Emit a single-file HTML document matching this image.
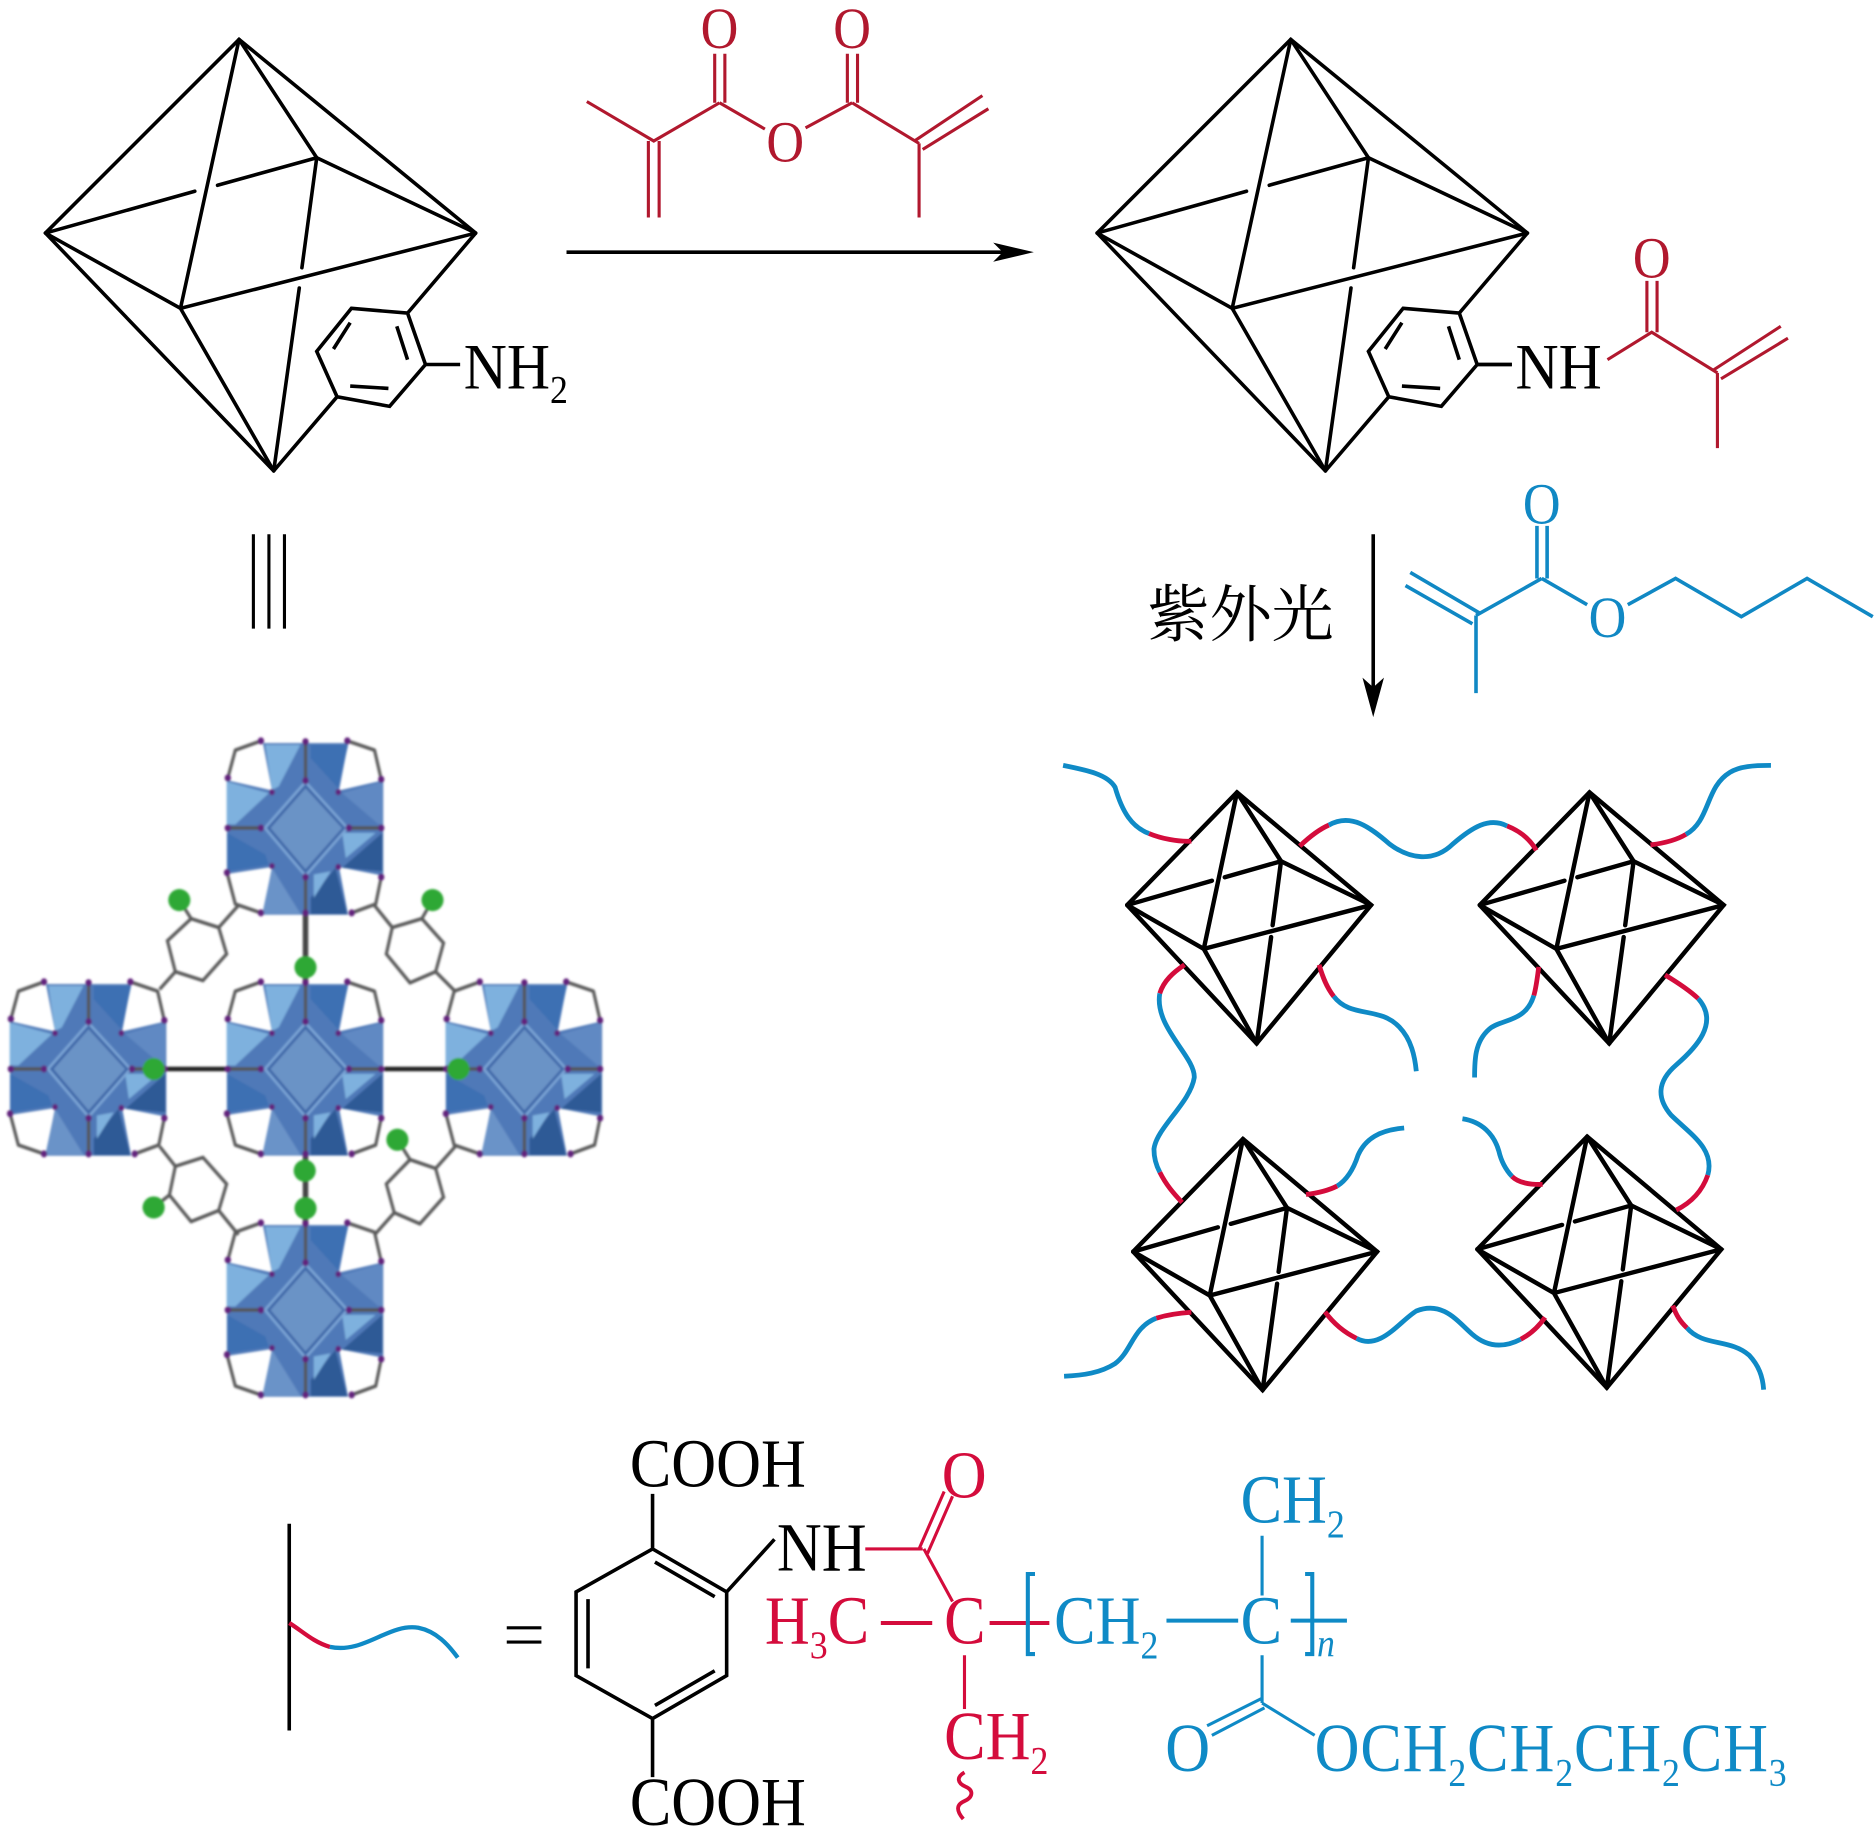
<!DOCTYPE html>
<html lang="zh">
<head>
<meta charset="utf-8">
<title>Diagram</title>
<style>
html,body{margin:0;padding:0;background:#fff}
svg{display:block}
text{font-family:"Liberation Serif","Noto Serif CJK SC",serif}
.ns *{vector-effect:non-scaling-stroke}
</style>
</head>
<body>
<svg xmlns="http://www.w3.org/2000/svg" width="1874" height="1846" viewBox="0 0 1568 1544.6">
<defs>
<filter id="bl" x="-5%" y="-5%" width="110%" height="110%"><feGaussianBlur stdDeviation="2.4"/></filter>
<g id="octaCore" fill="none" stroke="#000" stroke-linecap="round" stroke-linejoin="miter">
  <path d="M38,195L200,33L398,195M38,195L229,394"/>
  <path d="M200,33L151,258L229,394M38,195L151,258L398,195M200,33L265,132L398,195"/>
  <path d="M38,195L163,160M182,155L265,132"/>
  <path d="M265,132L252.6,224M250.4,241L229,394"/>
</g>
<g id="octaBig">
  <use href="#octaCore" stroke-width="3"/>
  <g fill="none" stroke="#000" stroke-width="3" stroke-linejoin="miter">
    <path d="M398,195L341,262M229,394L282,332"/>
    <path d="M294,258L341,262L356,305L326,340L282,332L265,294Z"/>
    <path d="M293,270L279,292M332,273L341,301M293,323L325,325"/>
    <path d="M356,305L385,305"/>
  </g>
</g>
<g id="octaSmall" class="ns">
  <g fill="none" stroke="#000" stroke-width="4.4" stroke-linecap="round">
    <path vector-effect="non-scaling-stroke" d="M38,195L200,33L398,195L229,394L38,195"/>
    <path vector-effect="non-scaling-stroke" d="M200,33L151,258L229,394M38,195L151,258L398,195M200,33L265,132L398,195"/>
    <path vector-effect="non-scaling-stroke" d="M38,195L163,160M182,155L265,132"/>
    <path vector-effect="non-scaling-stroke" d="M265,132L252.6,224M250.4,241L229,394"/>
  </g>
</g>
<g id="cell">
  <polygon points="-108,-192 108,-192 85,-85 197,-108 197,108 85,88 108,196 -108,196 -85,88 -199,104 -199,-108 -85,-85" fill="#5079b8"/>
  <polygon points="-102,-188 -13,-188 -68,-94 -85,-86" fill="#7eb1de"/>
  <polygon points="13,-188 108,-188 83,-90 13,-158" fill="#3d70b3"/>
  <polygon points="-200,-105 -93,-79 -178,-8 -200,-8" fill="#7eb1de"/>
  <polygon points="195,-105 93,-79 186,-8 195,-8" fill="#6089c3"/>
  <polygon points="-199,11 -102,60 -93,83 -199,98" fill="#3d70b3"/>
  <polygon points="195,11 93,90 195,98" fill="#2f5a96"/>
  <polygon points="-110,195 -12,195 -85,90" fill="#6a93c8"/>
  <polygon points="13,195 106,195 76,90 13,158" fill="#2f5a96"/>
  <polygon points="93,11 178,11 102,68" fill="#7eb1de"/>
  <polygon points="21,105 64,98 21,158" fill="#7eb1de"/>
  <polygon points="0,-104 106,0 0,108 -103,0" fill="none" stroke="#7ba5d6" stroke-width="6"/>
  <polygon points="0,-94 97,0 0,98 -93,0" fill="#6b93c6" stroke="#3f68a8" stroke-width="6"/>
  <g fill="none" stroke="#5a5a5a" stroke-width="8" stroke-linejoin="round">
    <path d="M-113,-197L-178,-176L-197,-113M106,-197L175,-176L192,-110M-113,192L-178,172L-199,101M117,192L178,172L192,111"/>
    <path d="M0,-195V-107M0,192V111M-197,0H-113M192,0H110" stroke="#555" stroke-width="8"/>
  </g>
  <g fill="#62227c">
    <circle cx="-113" cy="-197" r="8"/><circle cx="0" cy="-195" r="8"/><circle cx="106" cy="-197" r="8"/>
    <circle cx="-113" cy="192" r="8"/><circle cx="0" cy="192" r="8"/><circle cx="117" cy="192" r="8"/>
    <circle cx="-197" cy="-113" r="8"/><circle cx="-197" cy="0" r="8"/><circle cx="-199" cy="101" r="8"/>
    <circle cx="192" cy="-110" r="8"/><circle cx="192" cy="0" r="8"/><circle cx="192" cy="111" r="8"/>
    <circle cx="0" cy="-107" r="8"/><circle cx="0" cy="111" r="8"/><circle cx="-113" cy="0" r="8"/><circle cx="110" cy="0" r="8"/>
    <circle cx="-85" cy="-81" r="7"/><circle cx="83" cy="-81" r="7"/><circle cx="-85" cy="86" r="7"/><circle cx="83" cy="88" r="7"/>
  </g>
</g>
</defs>

<rect width="1568" height="1545" fill="#fff"/>

<!-- top left cage -->
<use href="#octaBig"/>
<text transform="translate(388,325) scale(1,1.08)" font-size="50">NH<tspan font-size="30" dy="11">2</tspan></text>

<!-- top right cage -->
<g transform="translate(880,0)"><use href="#octaBig"/></g>
<text transform="translate(1268,325) scale(1,1.08)" font-size="50">NH</text>
<path d="M1236,305L1265,305" stroke="#000" stroke-width="3" fill="none"/>

<!-- top reagent (anhydride) -->
<g fill="none" stroke="#b1182e" stroke-width="2.6">
  <path d="M491,85L547,118L602,86M542.5,118V182M551.5,118V182M598,86V45M606.5,86V45M602,86L640,108M674,107L713,86M709,86V45M717.5,86V45M713,86L769,120M765,118L822,80M772,125L827,91M769,120V182"/>
</g>
<g fill="#b1182e" font-size="46" text-anchor="middle">
  <text transform="translate(602,40) scale(.95,1.05)">O</text>
  <text transform="translate(713,40) scale(.95,1.05)">O</text>
  <text transform="translate(657,135) scale(.95,1.05)">O</text>
</g>

<!-- arrow -->
<path d="M474,211H850" stroke="#000" stroke-width="3" fill="none"/>
<polygon points="865,211 831,203 839,211 831,219" fill="#000"/>

<!-- amide red part -->
<g fill="none" stroke="#b1182e" stroke-width="2.6">
  <path d="M1345,301L1382,278L1437,312M1378,278V235M1386.5,278V235M1433,310L1490,273M1440,317L1496,283M1437,312V375"/>
</g>
<text transform="translate(1382,232) scale(.95,1.05)" font-size="46" fill="#b1182e" text-anchor="middle">O</text>

<!-- equivalence -->
<path d="M212,447V526M225,447V526M238,447V526" stroke="#000" stroke-width="2.6" fill="none"/>

<!-- UV -->
<text x="960" y="532" font-size="52" fill="#000" style="font-family:'Noto Serif CJK SC','Liberation Serif',serif">紫外光</text>
<path d="M1149,447V585" stroke="#000" stroke-width="3" fill="none"/>
<polygon points="1149,600 1140,567 1149,575 1158,567" fill="#000"/>

<!-- butyl methacrylate -->
<g fill="none" stroke="#1088c4" stroke-width="3">
  <path d="M1180,479L1238,513M1176,490L1232,522M1235,515V580M1235,515L1290,484M1286,484V440M1294.5,484V440M1290,484L1328,506M1362,506L1402,484L1457,516L1512,484L1567,516"/>
</g>
<g fill="#1088c4" font-size="46" text-anchor="middle">
  <text transform="translate(1290,438) scale(.95,1.05)">O</text>
  <text transform="translate(1345,533) scale(.95,1.05)">O</text>
</g>

<!-- MOF picture -->
<g transform="translate(1.5,604) scale(.33,.37)" filter="url(#bl)">
  <g fill="none" stroke="#5a5a5a" stroke-width="8">
    <path d="M600,415L550,465L570,525L510,585L440,565L420,495L480,445L550,465M440,565L400,605"/>
    <path d="M945,415L990,465L1065,445L1120,500L1100,565L1035,590L975,525L990,465M1100,565L1150,610"/>
    <path d="M400,960L440,1005L510,985L570,1045L550,1105L480,1130L425,1070L440,1005M550,1105L600,1160"/>
    <path d="M1150,960L1100,1010L1120,1075L1060,1135L995,1110L975,1045L1035,990L1100,1010M995,1110L945,1160"/>
    <path d="M480,445L450,403M1065,445L1092,403M425,1070L385,1098M1035,990L1003,945"/>
  </g>
  <path d="M770,430V590M770,975V1135" stroke="#444" stroke-width="14" fill="none"/>
  <path d="M415,785H570M970,785H1130" stroke="#222" stroke-width="10" fill="none"/>
  <use href="#cell" x="770" y="240"/>
  <use href="#cell" x="770" y="785"/>
  <use href="#cell" x="770" y="1330"/>
  <use href="#cell" x="220" y="785"/>
  <use href="#cell" x="1325" y="785"/>
  <g fill="#2fa836">
    <ellipse cx="450" cy="403" rx="28" ry="25"/><ellipse cx="1092" cy="403" rx="28" ry="25"/>
    <ellipse cx="770" cy="555" rx="28" ry="25"/><ellipse cx="385" cy="785" rx="28" ry="25"/><ellipse cx="1158" cy="785" rx="28" ry="25"/>
    <ellipse cx="1003" cy="945" rx="28" ry="25"/><ellipse cx="768" cy="1015" rx="28" ry="25"/>
    <ellipse cx="385" cy="1098" rx="28" ry="25"/><ellipse cx="770" cy="1100" rx="28" ry="25"/>
  </g>
</g>

<!-- network cages -->
<use href="#octaSmall" transform="translate(921.6,643.8) scale(.567,.582)"/>
<use href="#octaSmall" transform="translate(1216.6,643.8) scale(.567,.582)"/>
<use href="#octaSmall" transform="translate(926.6,933.8) scale(.567,.582)"/>
<use href="#octaSmall" transform="translate(1214.6,931.8) scale(.567,.582)"/>

<!-- network chains -->
<g transform="translate(870,620) scale(.4065,.352)" fill="none" stroke-width="4.8">
  <g stroke="#0f8ac6">
    <path vector-effect="non-scaling-stroke" d="M48,58C100,70 140,80 155,110C170,170 190,205 225,220"/>
    <path vector-effect="non-scaling-stroke" d="M595,200C640,170 680,205 720,245C760,280 810,290 850,245C890,205 925,180 962,202"/>
    <path vector-effect="non-scaling-stroke" d="M1330,222C1380,190 1370,110 1420,75C1440,60 1470,58 1505,58"/>
    <path vector-effect="non-scaling-stroke" d="M247,600C235,680 320,750 318,800C310,860 240,920 235,970C235,990 240,1010 247,1025"/>
    <path vector-effect="non-scaling-stroke" d="M605,607C640,660 700,630 740,680C765,710 772,750 775,785"/>
    <path vector-effect="non-scaling-stroke" d="M1017,605C1000,670 950,660 925,685C895,715 895,760 895,800"/>
    <path vector-effect="non-scaling-stroke" d="M1355,612C1400,670 1350,730 1310,770C1270,810 1270,850 1300,890C1340,935 1390,970 1375,1032"/>
    <path vector-effect="non-scaling-stroke" d="M750,920C700,925 670,945 655,985C645,1020 630,1045 612,1058"/>
    <path vector-effect="non-scaling-stroke" d="M870,898C910,905 935,935 945,975C950,1000 960,1020 972,1035"/>
    <path vector-effect="non-scaling-stroke" d="M240,1372C190,1395 190,1450 155,1480C125,1502 90,1508 50,1510"/>
    <path vector-effect="non-scaling-stroke" d="M652,1420C700,1450 740,1380 775,1355C830,1330 860,1380 890,1410C925,1445 960,1440 990,1422"/>
    <path vector-effect="non-scaling-stroke" d="M1332,1395C1365,1440 1420,1420 1460,1460C1480,1485 1488,1510 1490,1542"/>
  </g>
  <g stroke="#d40c3c">
    <path vector-effect="non-scaling-stroke" d="M225,220C250,232 285,240 312,238"/>
    <path vector-effect="non-scaling-stroke" d="M535,250C555,228 575,210 595,200"/>
    <path vector-effect="non-scaling-stroke" d="M962,202C990,215 1010,235 1022,260"/>
    <path vector-effect="non-scaling-stroke" d="M1257,247C1285,243 1310,236 1330,222"/>
    <path vector-effect="non-scaling-stroke" d="M298,532C275,550 255,570 247,600"/>
    <path vector-effect="non-scaling-stroke" d="M247,1025C260,1055 275,1075 293,1097"/>
    <path vector-effect="non-scaling-stroke" d="M575,532C582,560 590,585 605,607"/>
    <path vector-effect="non-scaling-stroke" d="M1027,537C1024,565 1022,585 1017,605"/>
    <path vector-effect="non-scaling-stroke" d="M1287,556C1310,572 1335,590 1355,612"/>
    <path vector-effect="non-scaling-stroke" d="M1375,1032C1365,1065 1345,1095 1310,1115"/>
    <path vector-effect="non-scaling-stroke" d="M612,1058C595,1068 570,1075 548,1078"/>
    <path vector-effect="non-scaling-stroke" d="M972,1035C985,1050 1010,1055 1035,1054"/>
    <path vector-effect="non-scaling-stroke" d="M312,1358C285,1360 265,1363 240,1372"/>
    <path vector-effect="non-scaling-stroke" d="M587,1357C605,1385 625,1405 652,1420"/>
    <path vector-effect="non-scaling-stroke" d="M990,1422C1010,1410 1025,1395 1040,1370"/>
    <path vector-effect="non-scaling-stroke" d="M1303,1342C1310,1365 1318,1380 1332,1395"/>
  </g>
</g>

<!-- legend -->
<path d="M242,1275V1448" stroke="#000" stroke-width="3" fill="none"/>
<path d="M242,1358C252,1364 262,1374 276,1378" stroke="#d40c3c" stroke-width="3.6" fill="none"/>
<path d="M276,1378C305,1384 325,1358 350,1362C365,1365 375,1376 383,1387" stroke="#0f8ac6" stroke-width="3.6" fill="none"/>
<path d="M424,1362H453M424,1374H453" stroke="#000" stroke-width="2.6" fill="none"/>

<!-- bottom formula: black -->
<g fill="none" stroke="#000" stroke-width="3">
  <path d="M546,1250V1296L608,1332V1402L546,1438L482,1402V1332L546,1296"/>
  <path d="M548,1307L598,1336M548,1427L598,1398M492,1338V1396M546,1438V1487M608,1332L648,1288"/>
</g>
<g font-size="52" fill="#000">
  <text transform="translate(527,1244) scale(1,1.1)">COOH</text>
  <text transform="translate(527,1527) scale(1,1.1)">COOH</text>
  <text transform="translate(650,1314) scale(1,1.1)">NH</text>
</g>

<!-- bottom formula: red -->
<g fill="none" stroke="#d40c3c" stroke-width="2.6">
  <path d="M724,1296H772M769,1296L790,1248M776,1300L797,1252M773,1296L797,1340"/>
  <path d="M737,1358H780" stroke-width="3.4"/>
  <path d="M828,1358H878" stroke-width="3.4"/>
  <path d="M807,1385V1430"/>
  <path d="M807,1483c-7,4 -6,9 1,12c7,3 6,9 -1,12c-7,3 -7,8 -1,15" stroke-width="3.2"/>
</g>
<g font-size="52" fill="#d40c3c">
  <text transform="translate(788,1253) scale(1,1.08)">O</text>
  <text transform="translate(640,1375) scale(1,1.1)">H<tspan font-size="30" dy="11">3</tspan><tspan dy="-11">C</tspan></text>
  <text transform="translate(790,1375) scale(1,1.1)">C</text>
  <text transform="translate(790,1472) scale(1,1.1)">CH<tspan font-size="30" dy="11">2</tspan></text>
</g>

<!-- bottom formula: blue -->
<g fill="none" stroke="#0f8ac6" stroke-width="2.6">
  <path d="M866,1317H860V1384H866" stroke-width="3.4"/>
  <path d="M1092,1317H1098V1384H1092" stroke-width="3.4"/>
  <path d="M976,1356H1036M1080,1356H1127" stroke-width="3.4"/>
  <path d="M1056,1285V1335M1056,1385V1425M1056,1421L1010,1444M1058,1429L1014,1452M1056,1425L1100,1452"/>
</g>
<g font-size="52" fill="#0f8ac6">
  <text transform="translate(1038,1274) scale(1,1.1)">CH<tspan font-size="30" dy="11">2</tspan></text>
  <text transform="translate(882,1375) scale(1,1.1)">CH<tspan font-size="30" dy="11">2</tspan></text>
  <text transform="translate(1038,1375) scale(1,1.1)">C</text>
  <text transform="translate(1102,1386) scale(1,1.1)" font-size="30" font-style="italic">n</text>
  <text transform="translate(975,1482) scale(1,1.1)">O</text>
  <text transform="translate(1100,1482) scale(1,1.1)" textLength="395" lengthAdjust="spacing">OCH<tspan font-size="30" dy="11">2</tspan><tspan dy="-11">CH</tspan><tspan font-size="30" dy="11">2</tspan><tspan dy="-11">CH</tspan><tspan font-size="30" dy="11">2</tspan><tspan dy="-11">CH</tspan><tspan font-size="30" dy="11">3</tspan></text>
</g>
</svg>
</body>
</html>
